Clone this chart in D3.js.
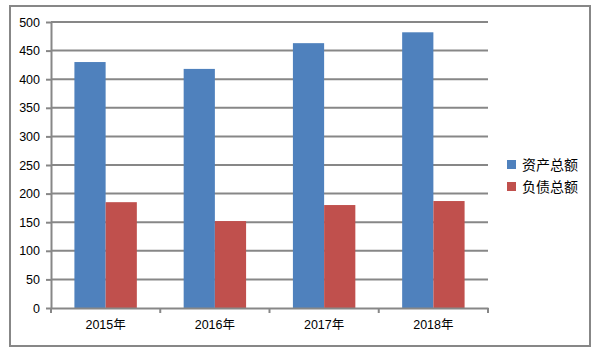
<!DOCTYPE html>
<html><head><meta charset="utf-8">
<script src="https://cdn.jsdelivr.net/npm/d3@7/dist/d3.min.js"></script>
<style>body{margin:0;background:#fff}svg{display:block}text{font-family:Arial,"Liberation Sans","Noto Sans CJK SC",sans-serif}</style>
</head><body>
<svg id="c" width="601" height="352"></svg>
<script>
const categories = ["2015年","2016年","2017年","2018年"];
const seriesNames = ["资产总额","负债总额"];
const assets = [430,418,463,482];
const liabilities = [185,152,180,187];
const yTicks = [0,50,100,150,200,250,300,350,400,450,500];
const colors = ["#4F81BD","#C0504D"];

(function(){
const svg = d3.select("#c");
const pl = 51, pr = 488, pt = 22, pb = 308;
const grid = "#878787";

svg.append("rect").attr("x",10).attr("y",6).attr("width",580).attr("height",340)
  .attr("fill","none").attr("stroke",grid).attr("stroke-width",2);

const x = d3.scaleBand().domain(categories).range([pl,pr]).paddingInner(1.5/3.5).paddingOuter(0.75/3.5);
const xb = d3.scaleBand().domain(categories).range([pl,pr]);
const xs = d3.scaleBand().domain(seriesNames).range([0,x.bandwidth()]);
const y = d3.scaleLinear().domain([0,500]).range([pb,pt]);

svg.append("g").selectAll("line").data(yTicks.filter(d=>d>0)).join("line")
  .attr("x1",pl).attr("x2",pr).attr("y1",d=>y(d)).attr("y2",d=>y(d))
  .attr("stroke",grid).attr("stroke-width",2);

const data = categories.map((c,i)=>({c, vals:[assets[i],liabilities[i]]}));
const g = svg.append("g").selectAll("g").data(data).join("g").attr("transform",d=>`translate(${x(d.c)},0)`);
g.selectAll("rect").data(d=>d.vals.map((v,j)=>({v,j}))).join("rect")
  .attr("x",d=>xs(seriesNames[d.j])).attr("width",xs.bandwidth())
  .attr("y",d=>y(d.v)).attr("height",d=>y(0)-y(d.v)).attr("fill",d=>colors[d.j]);

const ya = svg.append("g").attr("transform",`translate(${pl},0)`)
  .call(d3.axisLeft(y).tickValues(yTicks).tickSize(5).tickPadding(6).tickSizeOuter(0));
ya.select(".domain").attr("stroke",grid).attr("stroke-width",2);
ya.selectAll(".tick line").attr("stroke",grid).attr("stroke-width",2);
ya.selectAll("text").attr("font-size",12.5).attr("fill","#000");

const xa = svg.append("g").attr("transform",`translate(0,${pb})`)
  .call(d3.axisBottom(xb).tickSize(0).tickPadding(12).tickSizeOuter(0));
xa.select(".domain").attr("stroke",grid).attr("stroke-width",2);
xa.selectAll("text").attr("font-size",12.5).attr("fill","#000");
svg.append("g").selectAll("line").data(d3.range(categories.length+1)).join("line")
  .attr("x1",i=>pl+i*xb.step()).attr("x2",i=>pl+i*xb.step())
  .attr("y1",pb).attr("y2",pb+5).attr("stroke",grid).attr("stroke-width",2);

const lg = svg.append("g").selectAll("g").data(seriesNames).join("g")
  .attr("transform",(d,i)=>`translate(507,${160+i*22})`);
lg.append("rect").attr("width",9).attr("height",9).attr("fill",(d,i)=>colors[i]);
lg.append("text").attr("x",15).attr("y",5).attr("dy","0.35em").attr("font-size",14)
  .style("font-family","'Noto Sans CJK SC',sans-serif").text(d=>d);
})();
</script>
</body></html>
